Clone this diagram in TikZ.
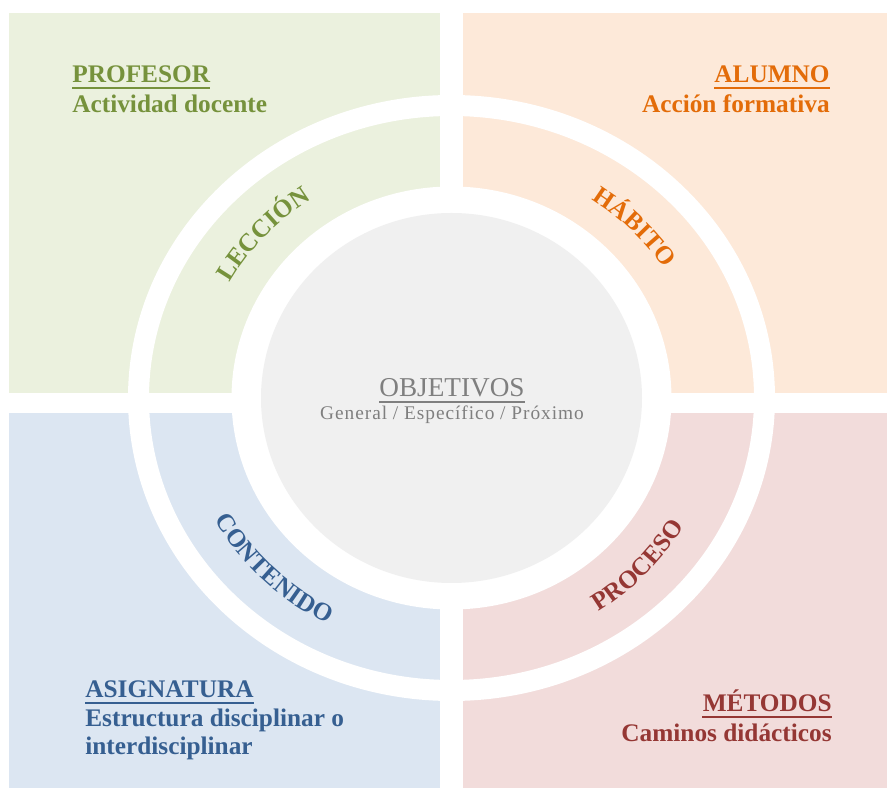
\documentclass[tikz,border=0pt]{standalone}
\usepackage{fontspec}
\setmainfont{Liberation Serif}
\usepackage{tikz}
\usetikzlibrary{decorations.text}

\definecolor{profbg}{HTML}{EBF1DE}
\definecolor{alumbg}{HTML}{FDE9D9}
\definecolor{asigbg}{HTML}{DCE6F2}
\definecolor{metbg}{HTML}{F2DCDB}
\definecolor{objbg}{HTML}{F0F0F0}
\definecolor{proftxt}{HTML}{76923C}
\definecolor{alumtxt}{HTML}{E36C09}
\definecolor{asigtxt}{HTML}{365F91}
\definecolor{mettxt}{HTML}{953734}
\definecolor{objtxt}{HTML}{7F7F7F}

\newcommand{\headfont}{\bfseries\fontsize{14.4}{17}\selectfont}
\newcommand{\objfont}{\fontsize{15.5}{18}\selectfont}
\newcommand{\objsubfont}{\addfontfeature{LetterSpace=5}\fontsize{11}{13}\selectfont}

\begin{document}
\begin{tikzpicture}[
  every node/.style={inner sep=0pt},
  head/.style={font=\headfont},
  uline/.style={line width=1.2pt},
  ring/.style={decorate, decoration={text along path, text align=center}}
]
  \useasboundingbox (0,0) rectangle (17.74,15.76);
  \fill[white] (0,0) rectangle (17.74,15.76);
  \coordinate (c) at (9.03,7.80);

  % quadrants
  \fill[profbg] (0.18,7.90) rectangle (8.80,15.50);
  \fill[alumbg] (9.26,7.90) rectangle (17.74,15.50);
  \fill[asigbg] (0.18,0) rectangle (8.80,7.50);
  \fill[metbg] (9.26,0) rectangle (17.74,7.50);

  % rings and centre
  \draw[white, line width=0.42cm] (c) ellipse [x radius=6.26cm, y radius=5.85cm];
  \fill[white] (c) ellipse [x radius=4.40cm, y radius=4.23cm];
  \fill[objbg] (c) ellipse [x radius=3.81cm, y radius=3.70cm];

  \path[ring, decoration={text={|\headfont\color{proftxt}|LECCIÓN}}]
    (c) ++(178:5.06cm and 4.77cm) arc[start angle=178, end angle=98, x radius=5.06cm, y radius=4.77cm];
  \path[ring, decoration={text={|\headfont\color{alumtxt}|HÁBITO}}]
    (c) ++(84:5.06cm and 4.77cm) arc[start angle=84, end angle=4, x radius=5.06cm, y radius=4.77cm];
  \path[ring, decoration={text={|\headfont\color{asigtxt}|CONTENIDO}}]
    (c) ++(185:5.39cm and 5.09cm) arc[start angle=185, end angle=265, x radius=5.39cm, y radius=5.09cm];
  \path[ring, decoration={text={|\headfont\color{mettxt}|PROCESO}}]
    (c) ++(277:5.39cm and 5.09cm) arc[start angle=277, end angle=357, x radius=5.39cm, y radius=5.09cm];

  \node[head, proftxt, anchor=base west] (prof) at (1.44,14.10) {PROFESOR};
  \node[head, proftxt, anchor=base west] (profsub) at ([yshift=-0.60cm]prof.base west) {Actividad docente};
  \draw[uline, proftxt] ([yshift=-2.6pt]prof.base west) -- ([yshift=-2.6pt]prof.base east);

  \node[head, alumtxt, anchor=base east] (alum) at (16.60,14.10) {ALUMNO};
  \node[head, alumtxt, anchor=base east] (alumsub) at ([yshift=-0.60cm]alum.base east) {Acción formativa};
  \draw[uline, alumtxt] ([yshift=-2.6pt]alum.base west) -- ([yshift=-2.6pt]alum.base east);

  \node[head, asigtxt, anchor=base west] (asig) at (1.70,1.80) {ASIGNATURA};
  \node[head, asigtxt, anchor=base west] (asigsub) at ([yshift=-0.58cm]asig.base west) {Estructura disciplinar o};
  \node[head, asigtxt, anchor=base west] (asigsubb) at ([yshift=-0.56cm]asigsub.base west) {interdisciplinar};
  \draw[uline, asigtxt] ([yshift=-2.6pt]asig.base west) -- ([yshift=-2.6pt]asig.base east);

  \node[head, mettxt, anchor=base east] (met) at (16.64,1.52) {MÉTODOS};
  \node[head, mettxt, anchor=base east] (metsub) at ([yshift=-0.60cm]met.base east) {Caminos didácticos};
  \draw[uline, mettxt] ([yshift=-2.6pt]met.base west) -- ([yshift=-2.6pt]met.base east);

  \node[font=\objfont, objtxt, anchor=base] (obj) at (9.04,7.82) {OBJETIVOS};
  \node[font=\objsubfont, objtxt, anchor=base] (objsub) at ([yshift=-0.46cm]obj.base) {General / Específico / Próximo};
  \draw[uline, objtxt] ([yshift=-2.6pt]obj.base west) -- ([yshift=-2.6pt]obj.base east);
\end{tikzpicture}
\end{document}
